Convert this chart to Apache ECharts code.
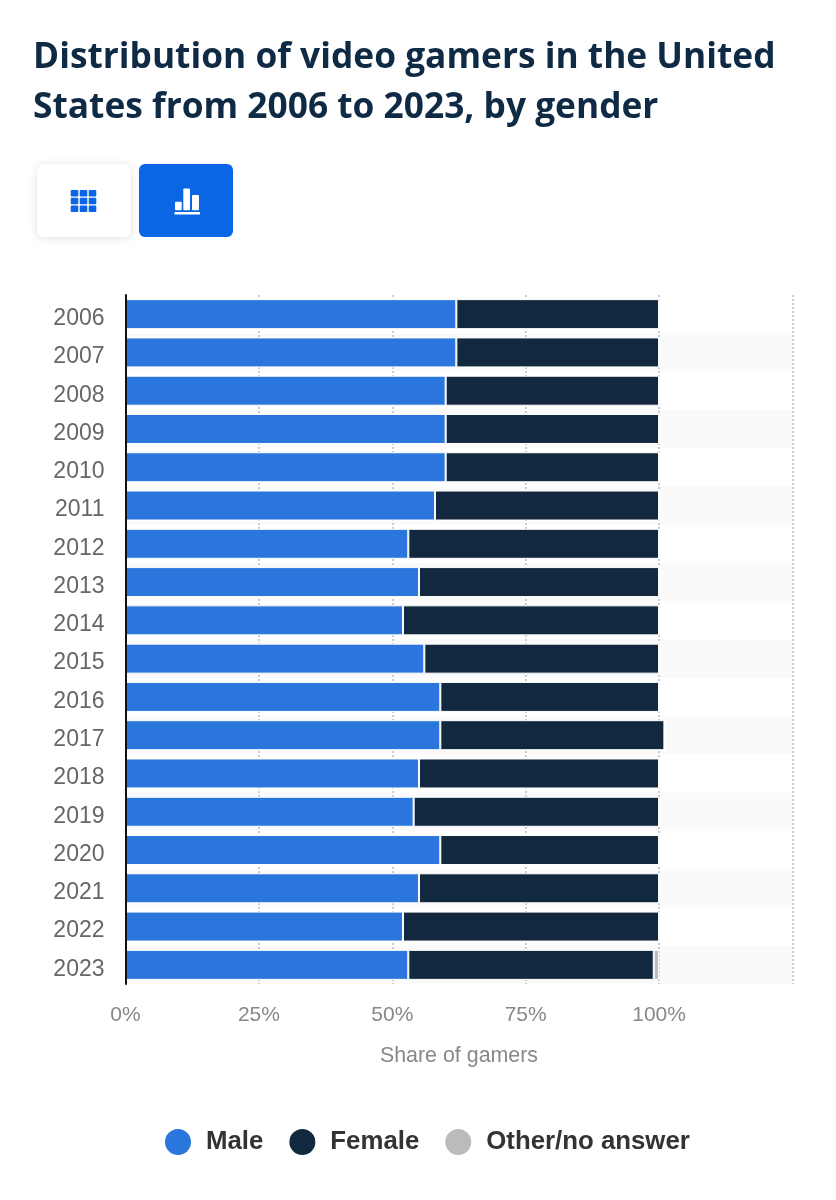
<!DOCTYPE html>
<html>
<head>
<meta charset="utf-8">
<title>Video gamers by gender</title>
<script src="https://cdn.jsdelivr.net/npm/echarts@6/dist/echarts.min.js"></script>
<style>
    html, body { margin: 0; padding: 0; background: #fff; }
    #chart { width: 836px; height: 1200px; }
</style>
</head>
<body>
<div id="chart"></div>
<script>
    var years = ['2006', '2007', '2008', '2009', '2010', '2011', '2012', '2013', '2014',
        '2015', '2016', '2017', '2018', '2019', '2020', '2021', '2022', '2023'];
    var male = [62, 62, 60, 60, 60, 58, 53, 55, 52, 56, 59, 59, 55, 54, 59, 55, 52, 53];
    var female = [38, 38, 40, 40, 40, 42, 47, 45, 48, 44, 41, 42, 45, 46, 41, 45, 48, 46];
    var other = [0, 0, 0, 0, 0, 0, 0, 0, 0, 0, 0, 0, 0, 0, 0, 0, 0, 1];
    var titleLines = 'Distribution of video gamers in the United\nStates from 2006 to 2023, by gender';

    var BLUE = '#2a76dd', NAVY = '#12283f', GREY = '#bbbbbb', BUTTON = '#0a66e4';

    function barSeries(name, data, color) {
        return {
            name: name,
            type: 'bar',
            stack: 'share',
            data: data,
            barWidth: 30,
            itemStyle: { color: color, borderColor: '#fff', borderWidth: 1 }
        };
    }

    // little icons on the two buttons
    function rect(x, y, w, h, fill, r) {
        return { type: 'rect', z: 3, shape: { x: x, y: y, width: w, height: h, r: r || 0 }, style: { fill: fill } };
    }
    var icons = [];
    [70.7, 79.7, 88.7].forEach(function (x) {
        [190, 197.7, 205.4].forEach(function (y) {
            icons.push(rect(x, y, 7.6, 6.5, BUTTON, 1));
        });
    });
    icons.push(rect(175, 201.7, 6.7, 8.5, '#fff', 1));
    icons.push(rect(183.3, 188.5, 6.7, 21.7, '#fff', 1));
    icons.push(rect(192, 195, 7, 15.2, '#fff', 1));
    icons.push(rect(174.5, 212, 25.5, 2.5, '#fff'));

    var chart = echarts.init(document.getElementById('chart'));
    chart.setOption({
        animation: false,
        backgroundColor: '#fff',
        textStyle: { fontFamily: '"Liberation Sans", Arial, sans-serif' },
        title: {
            text: titleLines,
            left: 28,
            top: 27.5,
            textStyle: {
                fontFamily: '"Open Sans", sans-serif',
                fontSize: 35.3,
                fontWeight: 'bold',
                color: '#0f2a44',
                lineHeight: 50
            }
        },
        legend: {
            data: ['Male', 'Female', 'Other/no answer'],
            left: 158,
            top: 1122,
            icon: 'circle',
            itemWidth: 28,
            itemHeight: 28,
            itemGap: 24,
            textStyle: { fontSize: 25.8, fontWeight: 'bold', color: '#333', padding: [0, 0, 0, 9] }
        },
        grid: { left: 125.5, top: 295, width: 667, height: 689 },
        xAxis: {
            type: 'value',
            min: 0,
            max: 125,
            interval: 25,
            axisLine: { show: false },
            axisTick: { show: false },
            splitLine: { show: true, lineStyle: { color: '#cccccc', type: 'dotted', width: 2 } },
            axisLabel: {
                fontSize: 21,
                color: '#888',
                margin: 21,
                formatter: function (v) { return v > 100 ? '' : v + '%'; }
            },
            name: 'Share of gamers',
            nameLocation: 'middle',
            nameGap: 62,
            nameTextStyle: { fontSize: 21.4, color: '#888' }
        },
        yAxis: [
            {
                type: 'category',
                data: years,
                inverse: true,
                axisLine: { show: false },
                axisTick: { show: false },
                axisLabel: { fontSize: 23, color: '#666', margin: 21, verticalAlign: 'top', lineHeight: 9 },
                splitLine: { show: false },
                splitArea: { show: true, areaStyle: { color: ['#ffffff', '#fafafa'] } }
            },
            {
                // only the black baseline, it has to sit on top of the bars
                type: 'category',
                data: years,
                inverse: true,
                position: 'left',
                z: 5,
                axisLine: { show: true, lineStyle: { color: '#111', width: 2 } },
                axisTick: { show: false },
                axisLabel: { show: false },
                splitLine: { show: false },
                splitArea: { show: false }
            }
        ],
        series: [
            barSeries('Male', male, BLUE),
            barSeries('Female', female, NAVY),
            barSeries('Other/no answer', other, GREY)
        ],
        graphic: [
            {
                type: 'rect', z: 1,
                shape: { x: 37, y: 164, width: 94, height: 73, r: 6 },
                style: { fill: '#fff', shadowBlur: 8, shadowColor: 'rgba(0,0,0,0.12)', shadowOffsetY: 1 }
            },
            {
                type: 'rect', z: 1,
                shape: { x: 139, y: 164, width: 94, height: 73, r: 6 },
                style: { fill: BUTTON }
            },
            { type: 'group', children: icons }
        ]
    });
</script>
</body>
</html>
